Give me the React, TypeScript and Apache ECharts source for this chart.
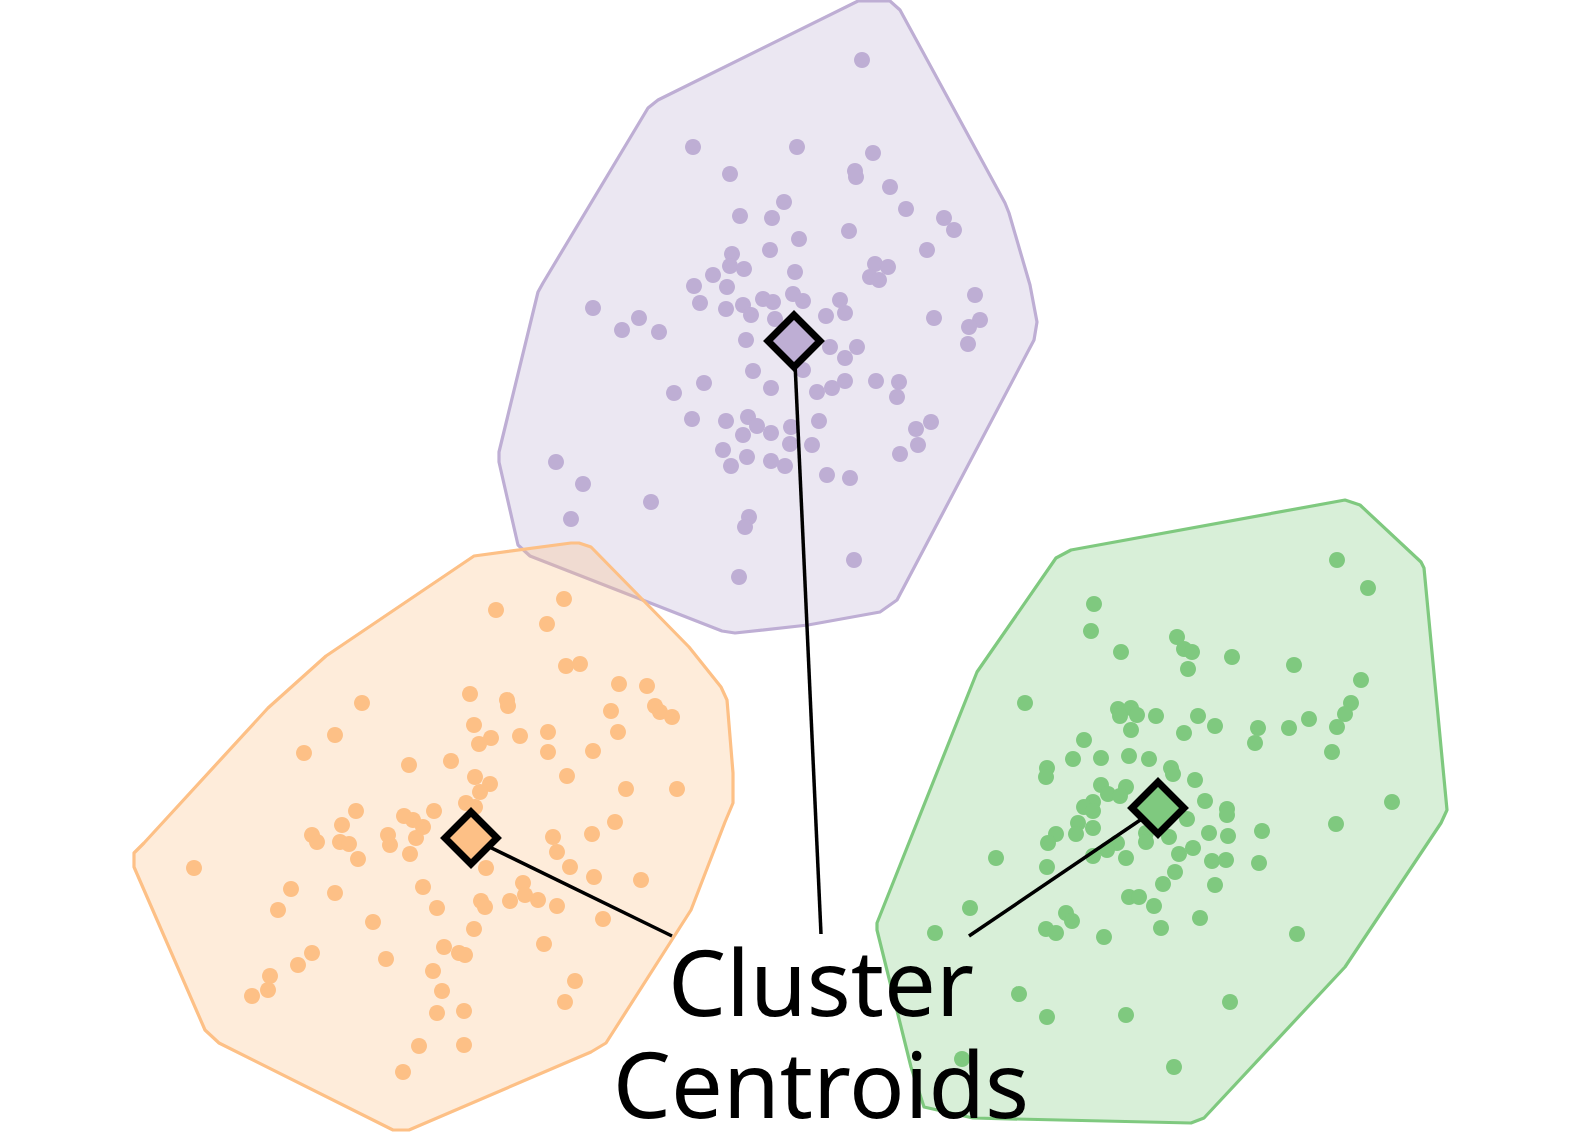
import React, { useEffect, useRef } from "react";
import * as echarts from "echarts";

// ---- data (coordinates in the chart's own x / y units) ----
const clusterNames = ["Cluster A", "Cluster B", "Cluster C"];
const clusterColors = ["#beaed4", "#fdc086", "#7fc97f"];

const purplePoints = [
  [862,60],[693,147],[797,147],[873,153],[730,174],[855,171],[856,177],[890,187],[784,202],[740,216],
  [772,218],[906,209],[944,218],[954,230],[849,231],[799,239],[770,250],[732,254],[927,250],[730,266],
  [744,269],[875,264],[888,267],[870,277],[879,280],[713,275],[795,272],[694,286],[727,287],[975,295],
  [593,308],[700,303],[726,309],[743,305],[763,299],[773,302],[793,294],[803,301],[840,300],[845,313],
  [751,315],[639,318],[826,316],[934,318],[980,320],[775,319],[969,327],[968,344],[622,330],[659,332],
  [746,340],[830,347],[857,347],[845,358],[803,370],[753,371],[704,383],[674,393],[771,388],[817,392],
  [832,388],[845,381],[876,381],[899,382],[897,397],[692,419],[726,421],[748,417],[757,426],[743,435],
  [771,433],[791,427],[819,421],[790,444],[812,445],[916,429],[931,422],[918,445],[900,454],[723,450],
  [747,457],[731,466],[771,461],[785,466],[556,462],[827,475],[850,478],[583,484],[651,502],[571,519],
  [749,517],[745,527],[854,560],[739,577]
];

const orangePoints = [
  [564,599],[496,610],[547,624],[566,666],[580,664],[619,684],[647,686],[470,694],[507,700],[508,706],
  [362,703],[611,711],[655,706],[660,712],[672,717],[618,732],[335,735],[474,725],[491,738],[479,744],
  [520,736],[548,732],[548,752],[593,751],[304,753],[409,765],[451,761],[567,776],[475,777],[490,784],
  [480,792],[626,789],[677,789],[466,803],[475,807],[356,811],[434,811],[404,816],[413,820],[423,827],
  [342,825],[615,822],[592,834],[553,837],[557,852],[312,835],[317,842],[340,842],[349,844],[388,835],
  [390,845],[416,838],[410,854],[358,859],[194,868],[486,868],[570,867],[594,877],[641,880],[291,889],
  [335,893],[423,887],[278,910],[437,908],[481,901],[485,907],[510,901],[523,883],[525,895],[538,900],
  [557,906],[603,919],[373,922],[474,929],[544,944],[312,953],[298,965],[386,959],[444,947],[459,953],
  [465,955],[433,971],[270,976],[268,990],[252,996],[442,991],[575,981],[565,1002],[437,1013],[464,1011],
  [419,1046],[464,1045],[403,1072]
];

const greenPoints = [
  [1337,560],[1368,588],[1094,604],[1091,631],[1177,637],[1184,649],[1192,652],[1121,652],[1232,657],[1294,665],
  [1188,669],[1361,680],[1025,703],[1351,703],[1345,714],[1118,709],[1131,708],[1137,715],[1120,716],[1156,716],
  [1198,716],[1215,726],[1309,719],[1289,728],[1337,727],[1131,730],[1184,733],[1258,728],[1255,743],[1332,752],
  [1084,740],[1073,759],[1101,758],[1129,756],[1149,759],[1171,768],[1173,774],[1195,780],[1047,768],[1046,777],
  [1101,785],[1126,787],[1108,794],[1120,796],[1205,801],[1392,802],[1093,802],[1084,807],[1227,809],[1093,811],
  [1227,815],[1187,819],[1336,824],[1262,831],[1209,833],[1228,836],[1078,823],[1076,834],[1093,828],[1056,834],
  [1048,843],[1146,833],[1146,842],[1169,837],[1117,843],[1107,850],[1193,848],[1179,854],[1126,858],[1093,856],
  [1212,861],[1226,860],[1259,863],[996,858],[1047,867],[1175,872],[1163,884],[1215,885],[1129,897],[1139,897],
  [1154,906],[970,908],[1066,913],[1072,921],[1200,918],[1046,929],[1056,933],[1104,937],[1161,928],[1297,934],
  [935,933],[1019,994],[1047,1017],[1126,1015],[1230,1002],[962,1059],[1174,1067]
];

const purpleHull = [
  [658,100],[858,1],[890,1],[900,10],[1005,203],[1009,213],[1030,285],[1037,322],[1034,340],
  [897,600],[880,612],[808,625],[735,633],[722,631],[530,556],[518,545],[499,462],[499,452],
  [538,292],[543,283],[648,108]
];
const orangeHull = [
  [474,556],[571,543],[579,543],[591,547],[689,647],[721,687],[727,700],[733,773],[733,803],
  [725,822],[691,910],[606,1043],[591,1052],[409,1130],[393,1130],[219,1043],[205,1030],
  [134,867],[134,853],[144,843],[268,708],[326,656]
];
const greenHull = [
  [1071,550],[1345,500],[1360,505],[1421,562],[1424,568],[1447,810],[1441,823],[1345,967],
  [1204,1118],[1191,1123],[973,1118],[924,1107],[911,1067],[877,930],[877,923],[977,672],[1056,558]
];

const centroids = [[794,341],[471,838],[1158,808]];
const leaderEnds = [[821,934],[672,936],[969,936]];

const labelText = "Cluster\nCentroids";

const xRange = [0, 1587];
const yRange = [0, 1133];

function withAlpha(hex: string, a: number) {
  const n = parseInt(hex.slice(1), 16);
  return `rgba(${(n >> 16) & 255},${(n >> 8) & 255},${n & 255},${a})`;
}

export default function App() {
  const ref = useRef<HTMLDivElement>(null);
  useEffect(() => {
    if (!ref.current) return;
    const chart = echarts.init(ref.current, null, { renderer: "svg" });
    const pointSets = [purplePoints, orangePoints, greenPoints];
    const hulls = [purpleHull, orangeHull, greenHull];

    const series: any[] = [];
    series.push({
      type: "custom",
      name: "hulls",
      z: 1,
      silent: true,
      clip: false,
      data: centroids.map((c) => [c[0], c[1]]),
      renderItem: (params: any, api: any) => {
        const i = params.dataIndex;
        const pts = hulls[i].map((p) => api.coord(p));
        return {
          type: "polygon",
          shape: { points: pts },
          style: {
            fill: withAlpha(clusterColors[i], 0.3),
            stroke: clusterColors[i],
            lineWidth: 3.2,
            lineJoin: "round",
          },
        };
      },
    });
    pointSets.forEach((pts, i) => {
      series.push({
        type: "scatter",
        name: clusterNames[i],
        z: 2,
        symbol: "circle",
        symbolSize: 16,
        itemStyle: { color: clusterColors[i], opacity: 1 },
        data: pts,
        silent: true,
      });
    });
    centroids.forEach((c, i) => {
      series.push({
        type: "line",
        z: 3,
        symbol: "none",
        silent: true,
        lineStyle: { color: "#000", width: 3.5, opacity: 1 },
        data: [c, leaderEnds[i]],
      });
    });
    series.push({
      type: "scatter",
      name: "centroids",
      z: 4,
      symbol: "diamond",
      symbolSize: 52,
      silent: true,
      data: centroids.map((c, i) => ({
        value: c,
        itemStyle: {
          color: clusterColors[i],
          borderColor: "#000",
          borderWidth: 7,
          opacity: 1,
        },
      })),
    });

    chart.setOption({
      animation: false,
      backgroundColor: "#ffffff",
      grid: { left: 0, right: 0, top: 0, bottom: 0 },
      xAxis: { type: "value", min: xRange[0], max: xRange[1], show: false },
      yAxis: { type: "value", min: yRange[0], max: yRange[1], inverse: true, show: false },
      series,
      graphic: [
        {
          type: "text",
          z: 100,
          x: 821,
          y: 1031,
          style: {
            text: labelText,
            fontSize: 92,
            lineHeight: 102,
            fontFamily: "Noto Sans",
            fill: "#000",
            align: "center",
            verticalAlign: "middle",
          },
        },
      ],
    });
    return () => chart.dispose();
  }, []);
  return (
    <div
      ref={ref}
      style={{ position: "fixed", left: 0, top: 0, width: 1587, height: 1133 }}
    />
  );
}
